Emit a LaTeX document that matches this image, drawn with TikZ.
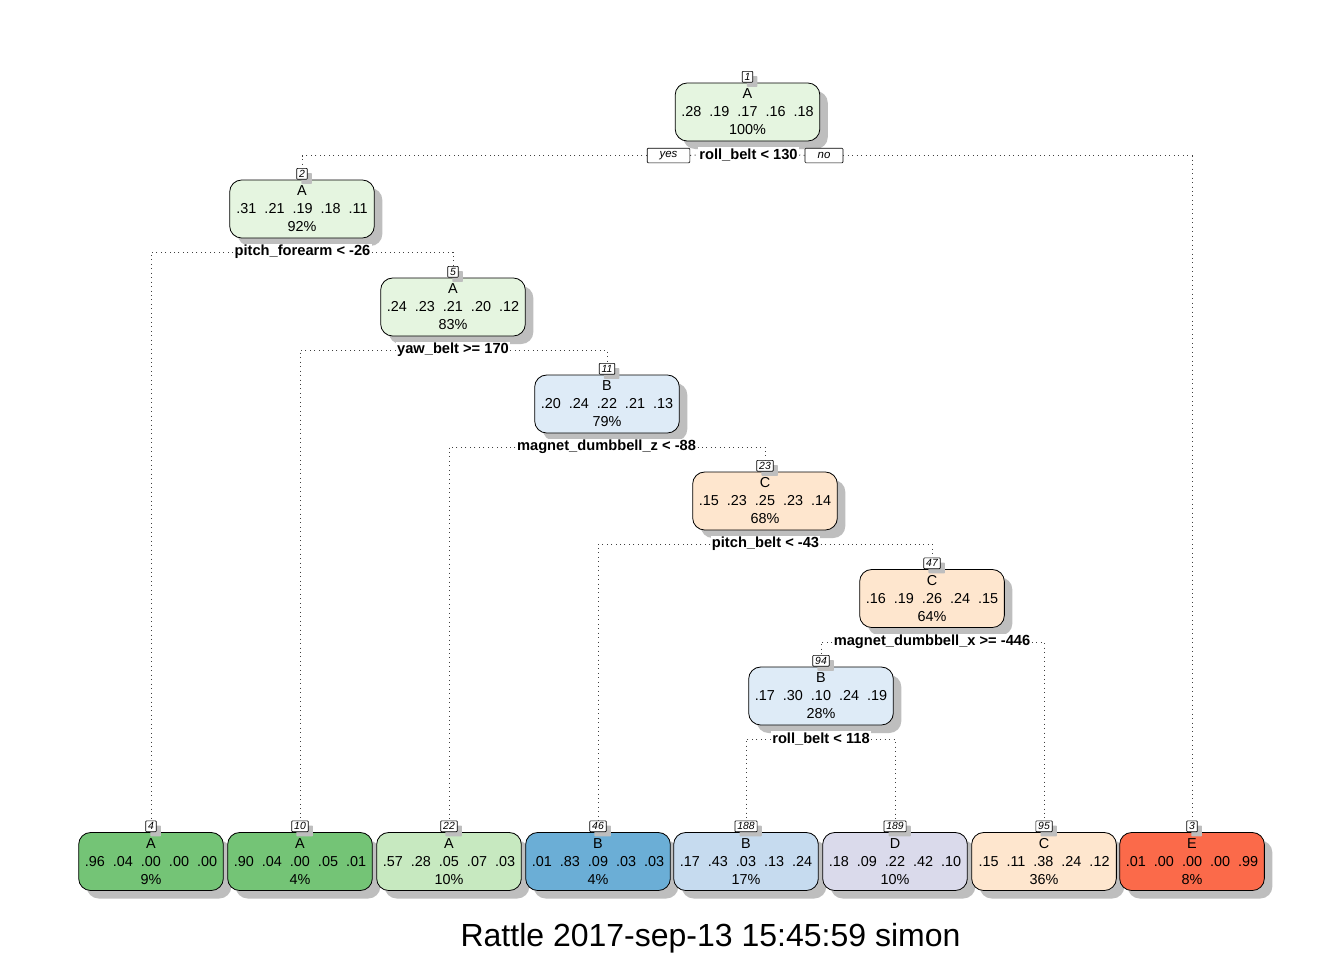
\documentclass[tikz,border=0pt]{standalone}
\usepackage{fontspec}
\setmainfont{Liberation Sans}
\usetikzlibrary{positioning,shadows}

% rpart-style palette
\definecolor{grA1}{HTML}{E5F5E0}
\definecolor{grA2}{HTML}{C7E9C0}
\definecolor{grA3}{HTML}{74C476}
\definecolor{blB1}{HTML}{DEEBF7}
\definecolor{blB2}{HTML}{C6DBEF}
\definecolor{blB3}{HTML}{6BAED6}
\definecolor{orC1}{HTML}{FEE6CE}
\definecolor{puD1}{HTML}{DADAEB}
\definecolor{rdE1}{HTML}{FB6A4A}
\definecolor{shadowgray}{HTML}{BEBEBE}

\tikzset{
  tnode/.style={draw=black, line width=0.6pt, rounded corners=9pt,
    minimum width=108.5pt, minimum height=43.5pt, inner sep=0pt,
    align=center, font=\fontsize{10.8}{13.5}\selectfont,
    drop shadow={shadow xshift=6pt, shadow yshift=-6pt, fill=shadowgray, opacity=1, draw=none}},
  numlab/.style={draw=black, line width=0.5pt, fill=white, rounded corners=0.6pt,
    inner xsep=1.8pt, inner ysep=0.8pt, minimum height=8.2pt,
    font=\fontsize{7.8}{8}\selectfont\itshape,
    drop shadow={shadow xshift=3.5pt, shadow yshift=-3.5pt, fill=shadowgray, opacity=1, draw=none}},
  splitlab/.style={fill=white, inner xsep=1pt, inner ysep=1pt,
    font=\fontsize{11}{12}\selectfont\bfseries},
  yesno/.style={draw=black, line width=0.5pt, fill=white, rounded corners=0.8pt,
    minimum height=11pt, inner ysep=0pt, font=\fontsize{8.6}{9}\selectfont\itshape},
  conn/.style={draw=black!75, line width=0.75pt,
    dash pattern=on 0.75pt off 2.6pt}
}

\begin{document}
\begin{tikzpicture}[x=0.75pt, y=-0.75pt]
\useasboundingbox[fill=white] (0,0) rectangle (1344,960);

% internal nodes
\node[tnode, fill=grA1] (n1)  at (747.5,112) {A\\.28\ \ .19\ \ .17\ \ .16\ \ .18\\100\%};
\node[tnode, fill=grA1] (n2)  at (302,209)   {A\\.31\ \ .21\ \ .19\ \ .18\ \ .11\\92\%};
\node[tnode, fill=grA1] (n5)  at (453,307)   {A\\.24\ \ .23\ \ .21\ \ .20\ \ .12\\83\%};
\node[tnode, fill=blB1] (n11) at (607,404)   {B\\.20\ \ .24\ \ .22\ \ .21\ \ .13\\79\%};
\node[tnode, fill=orC1] (n23) at (765,501)   {C\\.15\ \ .23\ \ .25\ \ .23\ \ .14\\68\%};
\node[tnode, fill=orC1] (n47) at (932,598.5) {C\\.16\ \ .19\ \ .26\ \ .24\ \ .15\\64\%};
\node[tnode, fill=blB1] (n94) at (821,696)   {B\\.17\ \ .30\ \ .10\ \ .24\ \ .19\\28\%};

% leaves
\node[tnode, fill=grA3] (n4)   at (151,861.5)  {A\\.96\ \ .04\ \ .00\ \ .00\ \ .00\\9\%};
\node[tnode, fill=grA3] (n10)  at (300,861.5)  {A\\.90\ \ .04\ \ .00\ \ .05\ \ .01\\4\%};
\node[tnode, fill=grA2] (n22)  at (449,861.5)  {A\\.57\ \ .28\ \ .05\ \ .07\ \ .03\\10\%};
\node[tnode, fill=blB3] (n46)  at (598,861.5)  {B\\.01\ \ .83\ \ .09\ \ .03\ \ .03\\4\%};
\node[tnode, fill=blB2] (n188) at (746,861.5)  {B\\.17\ \ .43\ \ .03\ \ .13\ \ .24\\17\%};
\node[tnode, fill=puD1] (n189) at (895,861.5)  {D\\.18\ \ .09\ \ .22\ \ .42\ \ .10\\10\%};
\node[tnode, fill=orC1] (n95)  at (1044,861.5) {C\\.15\ \ .11\ \ .38\ \ .24\ \ .12\\36\%};
\node[tnode, fill=rdE1] (n3)   at (1192,861.5) {E\\.01\ \ .00\ \ .00\ \ .00\ \ .99\\8\%};

% node numbers
\foreach \k in {1,2,5,11,23,47,94,4,10,22,46,188,189,95,3}
  \node[numlab, above=0pt of n\k] (l\k) {\k};

% split labels
\node[splitlab] (s1) at (748.5,155) {roll\_belt < 130};
\node[splitlab] (s2) at (302.5,252) {pitch\_forearm < -26};
\node[splitlab] (s3) at (453,350)   {yaw\_belt >= 170};
\node[splitlab] (s4) at (606.5,447) {magnet\_dumbbell\_z < -88};
\node[splitlab] (s5) at (765.5,544) {pitch\_belt < -43};
\node[splitlab] (s6) at (932,642)   {magnet\_dumbbell\_x >= -446};
\node[splitlab] (s7) at (821,739)   {roll\_belt < 118};

\node[yesno, minimum width=32pt] (yes) at (668.5,155.5) {yes};
\node[yesno, minimum width=28.5pt] (no) at (824,155.5) {no};

% dotted branches from each split to its children
\draw[conn] (yes.west) -| (l2.north);
\draw[conn] (yes.east) -- (s1.west);
\draw[conn] (s1.east) -- (no.west);
\draw[conn] (no.east) -| (l3.north);
\draw[conn] (s2.west) -| (l4.north);
\draw[conn] (s2.east) -| (l5.north);
\draw[conn] (s3.west) -| (l10.north);
\draw[conn] (s3.east) -| (l11.north);
\draw[conn] (s4.west) -| (l22.north);
\draw[conn] (s4.east) -| (l23.north);
\draw[conn] (s5.west) -| (l46.north);
\draw[conn] (s5.east) -| (l47.north);
\draw[conn] (s6.west) -| (l94.north);
\draw[conn] (s6.east) -| (l95.north);
\draw[conn] (s7.west) -| (l188.north);
\draw[conn] (s7.east) -| (l189.north);

\node[font=\fontsize{24}{28}\selectfont] (title) at (710.5,938.5) {Rattle 2017-sep-13 15:45:59 simon};
\end{tikzpicture}
\end{document}
